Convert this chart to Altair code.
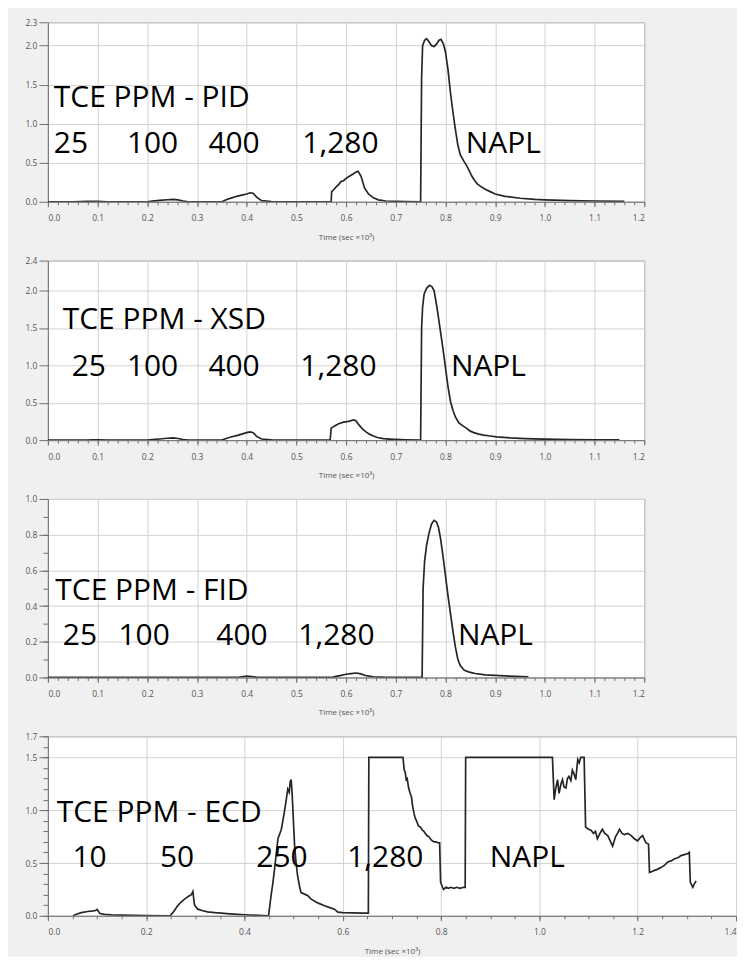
import altair as alt
import pandas as pd

# ---------------- data ----------------
pid_t = [0.0, 0.05, 0.08, 0.09, 0.10, 0.12, 0.20, 0.21, 0.225, 0.24, 0.252, 0.262, 0.272, 0.28,
         0.35, 0.36, 0.37, 0.38, 0.39, 0.40, 0.407, 0.413, 0.42, 0.43, 0.45, 0.50,
         0.57, 0.571, 0.576, 0.58, 0.585, 0.59, 0.595, 0.60, 0.605, 0.61, 0.615, 0.62, 0.624,
         0.63, 0.637, 0.645, 0.655, 0.665, 0.68, 0.70, 0.72, 0.750,
         0.752, 0.754, 0.758, 0.762, 0.767, 0.772, 0.777, 0.782, 0.787, 0.791, 0.796, 0.80,
         0.805, 0.81, 0.815, 0.819, 0.825, 0.83, 0.836, 0.842, 0.847, 0.853, 0.858, 0.864,
         0.87, 0.88, 0.89, 0.90, 0.92, 0.95, 0.98, 1.0, 1.05, 1.1, 1.16]
pid_v = [0.0, 0.0, 0.004, 0.006, 0.004, 0.0, 0.0, 0.008, 0.018, 0.026, 0.03, 0.024, 0.01, 0.002,
         0.0, 0.03, 0.05, 0.07, 0.085, 0.1, 0.115, 0.11, 0.06, 0.015, 0.003, 0.0,
         0.0, 0.13, 0.16, 0.19, 0.22, 0.26, 0.27, 0.30, 0.32, 0.34, 0.36, 0.38, 0.39,
         0.33, 0.18, 0.10, 0.05, 0.025, 0.01, 0.005, 0.002, 0.0,
         1.6, 2.0, 2.07, 2.09, 2.05, 2.0, 1.99, 2.02, 2.07, 2.08, 2.02, 1.92,
         1.7, 1.4, 1.15, 0.97, 0.72, 0.6, 0.53, 0.47, 0.41, 0.33, 0.28, 0.23,
         0.2, 0.16, 0.13, 0.1, 0.07, 0.045, 0.03, 0.025, 0.015, 0.01, 0.005]

xsd_t = [0.0, 0.08, 0.09, 0.10, 0.12, 0.20, 0.21, 0.225, 0.24, 0.252, 0.262, 0.272, 0.28,
         0.35, 0.36, 0.37, 0.38, 0.39, 0.40, 0.407, 0.413, 0.42, 0.43, 0.45, 0.50,
         0.568, 0.57, 0.577, 0.585, 0.595, 0.605, 0.615, 0.62, 0.625, 0.633, 0.64, 0.647,
         0.655, 0.663, 0.675, 0.69, 0.72, 0.75,
         0.752, 0.754, 0.757, 0.762, 0.768, 0.773, 0.777, 0.781, 0.785, 0.79, 0.795, 0.80,
         0.805, 0.81, 0.815, 0.82, 0.827, 0.835, 0.842, 0.85, 0.857, 0.867, 0.877, 0.89,
         0.903, 0.93, 0.96, 1.0, 1.05, 1.1, 1.15]
xsd_v = [0.0, 0.0, 0.004, 0.002, 0.0, 0.0, 0.006, 0.015, 0.025, 0.03, 0.022, 0.008, 0.002,
         0.0, 0.025, 0.045, 0.06, 0.08, 0.1, 0.11, 0.1, 0.05, 0.015, 0.004, 0.0,
         0.0, 0.16, 0.19, 0.22, 0.24, 0.25, 0.27, 0.26, 0.21, 0.15, 0.11, 0.08,
         0.055, 0.035, 0.02, 0.012, 0.005, 0.0,
         1.5, 1.78, 1.95, 2.03, 2.07, 2.05, 2.0, 1.85, 1.68, 1.45, 1.22, 0.97,
         0.72, 0.52, 0.4, 0.31, 0.23, 0.19, 0.16, 0.12, 0.1, 0.08, 0.067, 0.055,
         0.044, 0.03, 0.02, 0.012, 0.008, 0.005, 0.003]

fid_t = [0.0, 0.38, 0.39, 0.40, 0.41, 0.42, 0.45, 0.57, 0.58, 0.59, 0.60, 0.61, 0.62, 0.63,
         0.64, 0.655, 0.68, 0.753, 0.755, 0.758, 0.762, 0.767, 0.772, 0.777, 0.782, 0.786,
         0.79, 0.795, 0.80, 0.805, 0.81, 0.815, 0.82, 0.825, 0.83, 0.838, 0.848, 0.86, 0.88,
         0.91, 0.94, 0.967]
fid_v = [0.0, 0.0, 0.004, 0.007, 0.005, 0.001, 0.0, 0.0, 0.006, 0.012, 0.018, 0.022, 0.025, 0.02,
         0.01, 0.004, 0.001, 0.0, 0.5, 0.65, 0.74, 0.81, 0.86, 0.88, 0.87, 0.84,
         0.78, 0.68, 0.57, 0.46, 0.36, 0.26, 0.17, 0.1, 0.065, 0.04, 0.03, 0.022, 0.015,
         0.01, 0.006, 0.004]

ecd_t = [0.051, 0.058, 0.068, 0.081, 0.092, 0.097, 0.100, 0.103, 0.106, 0.115, 0.13, 0.15, 0.20,
         0.249, 0.256, 0.264, 0.271, 0.278, 0.283, 0.288, 0.292, 0.295, 0.298, 0.30, 0.305,
         0.315, 0.325, 0.34, 0.353, 0.37, 0.386, 0.40, 0.449,
         0.454, 0.458, 0.461, 0.465, 0.468, 0.472, 0.475, 0.478, 0.481, 0.485, 0.488, 0.491,
         0.493, 0.495, 0.497, 0.499, 0.502, 0.505, 0.508, 0.512, 0.515, 0.52, 0.529, 0.535,
         0.542, 0.55, 0.563, 0.575, 0.583, 0.59, 0.60, 0.62, 0.64, 0.652,
         0.653, 0.7224, 0.725, 0.727, 0.729, 0.731, 0.734, 0.737, 0.740, 0.742, 0.745, 0.747,
         0.750, 0.754, 0.758, 0.762, 0.765, 0.768, 0.771, 0.775, 0.778, 0.782, 0.786, 0.790,
         0.795, 0.797, 0.799, 0.802, 0.805, 0.81, 0.815, 0.82, 0.826, 0.832, 0.838, 0.846,
         0.849, 0.850, 1.0265, 1.03, 1.033, 1.037, 1.04, 1.044, 1.047, 1.05, 1.054, 1.057,
         1.06, 1.064, 1.067, 1.07, 1.074, 1.078, 1.081, 1.084, 1.091, 1.094, 1.1, 1.105,
         1.11, 1.114, 1.118, 1.122, 1.128, 1.133, 1.139, 1.144, 1.149, 1.155, 1.16, 1.163,
         1.168, 1.173, 1.18, 1.187, 1.193, 1.2, 1.205, 1.21, 1.214, 1.217, 1.222, 1.224,
         1.229, 1.234, 1.24, 1.248, 1.255, 1.261, 1.268, 1.275, 1.282, 1.288, 1.295, 1.302,
         1.305, 1.307, 1.31, 1.312, 1.316, 1.319]
ecd_v = [0.0, 0.015, 0.03, 0.041, 0.046, 0.05, 0.06, 0.04, 0.022, 0.013, 0.009, 0.006, 0.003,
         0.0, 0.04, 0.095, 0.13, 0.158, 0.175, 0.19, 0.2, 0.23, 0.11, 0.09, 0.063,
         0.048, 0.038, 0.03, 0.025, 0.018, 0.013, 0.01, 0.0,
         0.19, 0.32, 0.44, 0.6, 0.73, 0.78, 0.82, 0.9, 0.98, 1.1, 1.2, 1.17,
         1.27, 1.29, 1.15, 0.95, 0.66, 0.5, 0.38, 0.28, 0.22, 0.21, 0.19, 0.16,
         0.14, 0.12, 0.095, 0.075, 0.063, 0.035, 0.03, 0.028, 0.026, 0.025,
         1.5, 1.5, 1.38, 1.36, 1.29, 1.3, 1.21, 1.16, 1.12, 1.04, 0.97, 0.93,
         0.9, 0.85, 0.84, 0.81, 0.8, 0.78, 0.76, 0.75, 0.73, 0.71, 0.7, 0.7,
         0.69, 0.69, 0.32, 0.28, 0.25, 0.27, 0.26, 0.27, 0.26, 0.27, 0.26, 0.27,
         0.27, 1.5, 1.5, 1.1, 1.2, 1.29, 1.16, 1.25, 1.29, 1.22, 1.21, 1.3,
         1.32, 1.28, 1.38, 1.35, 1.29, 1.48, 1.45, 1.5, 1.5, 0.84, 0.82, 0.81,
         0.78, 0.8, 0.73, 0.77, 0.82, 0.78, 0.76, 0.71, 0.66, 0.75, 0.79, 0.82,
         0.78, 0.77, 0.78, 0.76, 0.73, 0.71, 0.74, 0.76, 0.72, 0.69, 0.68, 0.41,
         0.42, 0.43, 0.44, 0.46, 0.48, 0.51, 0.52, 0.54, 0.55, 0.57, 0.58, 0.59,
         0.6, 0.32, 0.29, 0.27, 0.31, 0.33]

# annotation texts: (label, x in sec x10^3, y in signal units)
pid_labels = ["TCE PPM - PID", "25", "100", "400", "1,280", "NAPL"]
pid_lx = [0.012, 0.012, 0.159, 0.323, 0.512, 0.841]
pid_ly = [1.214, 0.626, 0.626, 0.626, 0.626, 0.626]

xsd_labels = ["TCE PPM - XSD", "25", "100", "400", "1,280", "NAPL"]
xsd_lx = [0.030, 0.048, 0.159, 0.323, 0.508, 0.811]
xsd_ly = [1.484, 0.863, 0.863, 0.863, 0.863, 0.863]

fid_labels = ["TCE PPM - FID", "25", "100", "400", "1,280", "NAPL"]
fid_lx = [0.015, 0.030, 0.142, 0.339, 0.504, 0.825]
fid_ly = [0.436, 0.184, 0.184, 0.184, 0.184, 0.184]

ecd_labels = ["TCE PPM - ECD", "10", "50", "250", "1,280", "NAPL"]
ecd_lx = [0.018, 0.050, 0.228, 0.424, 0.609, 0.899]
ecd_ly = [0.885, 0.46, 0.46, 0.46, 0.46, 0.46]

# axis tick values
x12_major = [round(i * 0.1, 2) for i in range(13)]
x12_minor = [round(i * 0.02, 2) for i in range(61)]
x14_major = [round(i * 0.2, 2) for i in range(8)]
x14_minor = [round(i * 0.05, 2) for i in range(29)]

pid_y = [0.0, 0.5, 1.0, 1.5, 2.0, 2.3]
xsd_y = [0.0, 0.5, 1.0, 1.5, 2.0, 2.4]
fid_y = [0.0, 0.2, 0.4, 0.6, 0.8, 1.0]
fid_ym = [round(i * 0.1, 2) for i in range(11)]
ecd_y = [0.0, 0.5, 1.0, 1.5, 1.7]
ecd_ym = [round(i * 0.1, 2) for i in range(18)]

XTITLE = "Time (sec \u00d710\u00b3)"


def panel(t, v, labels, lx, ly, ymax, yvals, yminor, xmax, xvals, xminor, w, h):
    df = pd.DataFrame({"t": t, "v": v})
    tx = pd.DataFrame({"label": labels, "x": lx, "y": ly})
    xs = alt.Scale(domain=[0, xmax], nice=False, zero=False)
    ys = alt.Scale(domain=[0, ymax], nice=False, zero=False)

    line = alt.Chart(df).mark_line(color="#262626", strokeWidth=1.7, clip=True).encode(
        x=alt.X("t:Q", scale=xs,
                axis=alt.Axis(values=xvals, format=".1f", title=XTITLE, orient="bottom",
                              grid=True, tickSize=5, labelPadding=7, titlePadding=11)),
        y=alt.Y("v:Q", scale=ys,
                axis=alt.Axis(values=yvals, format=".1f", title=None, orient="left",
                              grid=True, tickSize=9, labelPadding=2)),
    )
    ymin_axis = alt.Axis(values=yminor if yminor else [0], labels=False, title=None, orient="left",
                         grid=False, domain=False, tickSize=5 if yminor else 0.01)
    minor = alt.Chart(df).mark_line(opacity=0).encode(
        x=alt.X("t:Q", scale=xs,
                axis=alt.Axis(values=xminor, labels=False, title=None, orient="bottom",
                              grid=False, domain=False, tickSize=3)),
        y=alt.Y("v:Q", scale=ys, axis=ymin_axis),
    )
    text = alt.Chart(tx).mark_text(align="left", baseline="alphabetic", font="Open Sans",
                                   fontSize=30, color="#000000").encode(
        x=alt.X("x:Q", scale=xs, axis=None),
        y=alt.Y("y:Q", scale=ys, axis=None),
        text="label:N",
    )
    return alt.layer(minor, line, text).resolve_axis(x="independent", y="independent").properties(
        width=w, height=h)


p1 = panel(pid_t, pid_v, pid_labels, pid_lx, pid_ly, 2.3, pid_y, None, 1.2, x12_major, x12_minor, 598, 180)
p2 = panel(xsd_t, xsd_v, xsd_labels, xsd_lx, xsd_ly, 2.4, xsd_y, None, 1.2, x12_major, x12_minor, 598, 180)
p3 = panel(fid_t, fid_v, fid_labels, fid_lx, fid_ly, 1.0, fid_y, fid_ym, 1.2, x12_major, x12_minor, 598, 179)
p4 = panel(ecd_t, ecd_v, ecd_labels, ecd_lx, ecd_ly, 1.7, ecd_y, ecd_ym, 1.4, x14_major, x14_minor, 690, 180)

chart = alt.vconcat(p1, p2, p3, p4, spacing=59, bounds="flush").properties(
    padding={"left": 16, "top": 8, "right": 0, "bottom": 0},
    background="#f0f0f0",
).configure_view(
    fill="white", stroke="#9a9a9a", strokeWidth=1
).configure_axis(
    labelFont="Open Sans", labelFontSize=8.5, labelColor="#555555",
    titleFont="Open Sans", titleFontSize=8, titleFontWeight="normal", titleColor="#555555",
    tickColor="#707070", domainColor="#707070", gridColor="#d2d2d2", gridWidth=1,
)

chart.save("out.html", embed_options={"renderer": "svg", "actions": False})
